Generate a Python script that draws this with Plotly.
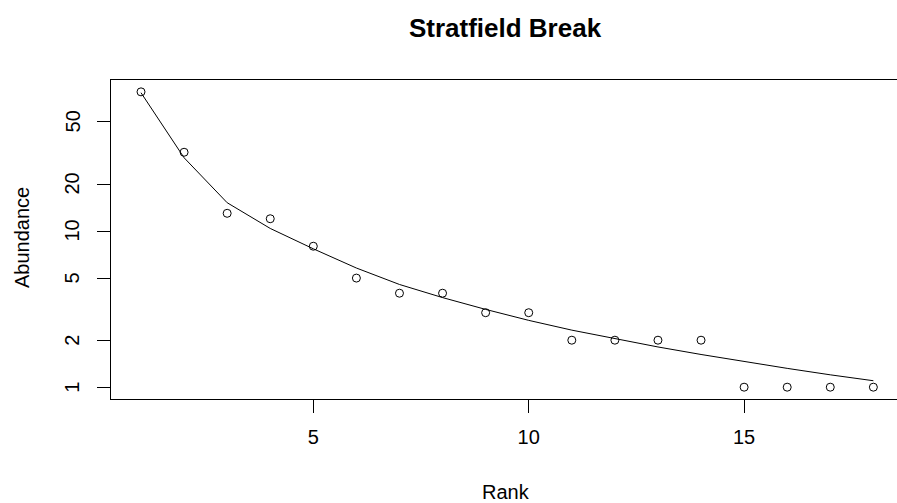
import math
import plotly.graph_objects as go

# Rank-abundance data for Stratfield Break
rank = list(range(1, 19))
abundance = [78, 32, 13, 12, 8, 5, 4, 4, 3, 3, 2, 2, 2, 2, 1, 1, 1, 1]
# fitted rank-abundance model
fitted = [77, 29.5, 15.2, 10.4, 7.7, 5.8, 4.55, 3.75, 3.15, 2.68, 2.32, 2.04,
          1.81, 1.62, 1.46, 1.32, 1.20, 1.10]

x_ticks = [5, 10, 15]
y_ticks = [1, 2, 5, 10, 20, 50]

FONT = "Liberation Sans, Arial, sans-serif"

PX_PER_RANK = 43.08
X_LEFT = 1 - 30 / PX_PER_RANK
X_RIGHT = X_LEFT + 786 / PX_PER_RANK
PLOT_W = 786

fig = go.Figure()
fig.add_trace(go.Scatter(
    x=rank, y=fitted, mode="lines",
    line=dict(color="black", width=1), showlegend=False, hoverinfo="skip"))
fig.add_trace(go.Scatter(
    x=rank, y=abundance, mode="markers",
    marker=dict(symbol="circle-open", size=8, color="black",
                line=dict(color="black", width=1)),
    showlegend=False))

# vertical y tick labels, placed beside the ticks
ytick_labels = [
    dict(text=str(v), xref="paper", yref="y",
         x=-(111 - 72.5) / PLOT_W, y=math.log10(v),
         xanchor="center", yanchor="middle", textangle=-90,
         showarrow=False, font=dict(size=20))
    for v in y_ticks
]

fig.update_layout(
    width=897, height=503,
    margin=dict(l=111, r=0, t=80, b=104),
    paper_bgcolor="white", plot_bgcolor="white",
    font=dict(family=FONT, color="black", size=20),
    title=dict(text="<b>Stratfield Break</b>", font=dict(size=26, family=FONT),
               x=505 / 897, xref="container", xanchor="center",
               y=1 - 28 / 503, yref="container", yanchor="middle"),
    xaxis=dict(range=[X_LEFT, X_RIGHT], tickvals=x_ticks,
               showgrid=False, zeroline=False,
               showline=True, linecolor="black", linewidth=1, mirror=True,
               ticks="outside", ticklen=13, tickcolor="black", tickwidth=1,
               ticklabelstandoff=7, tickfont=dict(size=20)),
    yaxis=dict(type="log", range=[-0.0757, 1.968], tickvals=y_ticks,
               showticklabels=False,
               showgrid=False, zeroline=False,
               showline=True, linecolor="black", linewidth=1, mirror=False,
               ticks="outside", ticklen=13, tickcolor="black", tickwidth=1),
    annotations=ytick_labels + [
        dict(text="Rank", xref="paper", yref="paper",
             x=(506 - 111) / PLOT_W, y=-(492 - 399) / 319,
             xanchor="center", yanchor="middle", showarrow=False,
             font=dict(size=20)),
        dict(text="Abundance", xref="paper", yref="paper",
             x=-(111 - 22) / PLOT_W, y=(399 - 238) / 319,
             xanchor="center", yanchor="middle", textangle=-90,
             showarrow=False, font=dict(size=20)),
    ],
)

fig.write_html("out.html")
